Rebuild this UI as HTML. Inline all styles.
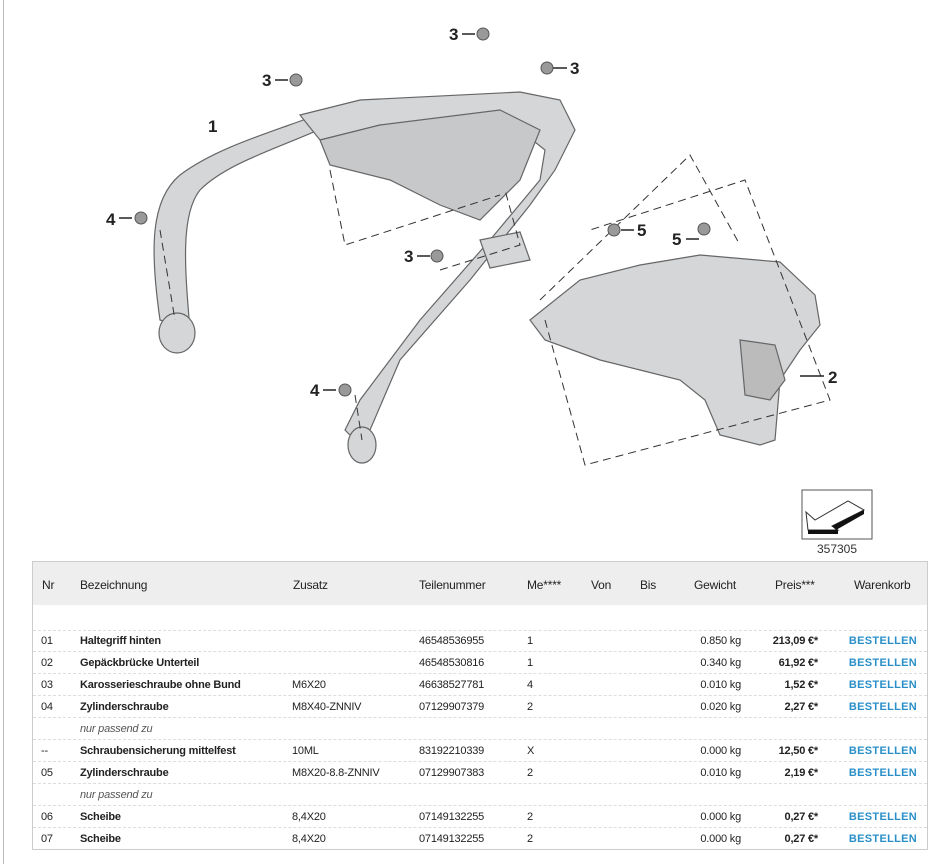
<!DOCTYPE html>
<html><head><meta charset="utf-8"><style>
body{margin:0;width:952px;height:864px;background:#fff;position:relative;overflow:hidden;font-family:"Liberation Sans",Arial,sans-serif;}
.b{position:absolute;left:3px;top:0;width:1px;height:864px;background:#bbb}
.t{position:absolute;left:32px;top:561px;width:896px;height:289px;border:1px solid #ccc;box-sizing:border-box}
.h{position:absolute;left:0;top:0;width:100%;height:43px;background:#eee}
.c{position:absolute;font-size:11px;color:#222;white-space:nowrap;letter-spacing:-0.2px}
.hc{font-size:12px;color:#222}
.r{text-align:right}
.bo{font-weight:bold}
.bl{color:#2a8fc8;font-weight:bold;letter-spacing:0.3px}
.d{position:absolute;left:0;width:100%;border-top:1px dashed #ddd}
.i{font-style:italic;color:#555}
</style></head><body>
<div class="b"></div>
<svg width="952" height="560" style="position:absolute;left:0;top:0">
<g fill="#d4d6d8" stroke="#666" stroke-width="1.2">
<path d="M160 320 C150 250 150 200 180 175 C220 145 280 130 330 110 L340 120 C290 145 230 160 200 190 C180 215 185 270 190 330 Z"/>
<ellipse cx="177" cy="333" rx="18" ry="20"/>
<path d="M300 115 L360 100 L520 92 L560 100 L575 130 L555 170 L530 205 L470 280 L400 360 L370 430 L355 440 L345 430 L360 400 L420 320 L490 240 L540 180 L545 150 L520 130 L460 120 L380 125 L320 140 Z"/>
<path d="M320 140 L380 125 L500 110 L540 130 L520 180 L480 220 L440 205 L390 180 L330 165 Z" fill="#c6c8ca"/>
<ellipse cx="362" cy="445" rx="14" ry="18"/>
<path d="M530 320 L580 280 L640 265 L700 255 L780 262 L815 295 L820 325 L800 350 L780 380 L775 440 L760 445 L720 435 L705 400 L680 380 L640 370 L600 360 L545 340 Z"/>
<path d="M740 340 L775 345 L785 380 L770 400 L745 395 Z" fill="#bbb"/>
<path d="M480 240 L520 232 L530 260 L490 268 Z"/>
</g>
<g stroke="#333" stroke-width="1" fill="none" stroke-dasharray="8,5">
<path d="M330 170 L345 245 L500 195"/><path d="M440 270 L520 245 L505 190"/>
<path d="M540 300 L690 155 L740 245"/><path d="M545 320 L585 465 L830 400 L745 180 L590 230"/>
<path d="M160 230 L175 320"/><path d="M355 395 L362 440"/>
</g>
<g font-size="17" font-weight="bold" fill="#222" font-family="Liberation Sans">
<text x="208" y="132">1</text><text x="828" y="383">2</text>
<text x="262" y="86">3</text><text x="449" y="40">3</text><text x="570" y="74">3</text><text x="404" y="262">3</text>
<text x="106" y="225">4</text><text x="310" y="396">4</text>
<text x="637" y="236">5</text><text x="672" y="245">5</text>
</g>
<g stroke="#222" stroke-width="1.5">
<line x1="275" y1="80" x2="288" y2="80"/><line x1="462" y1="34" x2="475" y2="34"/><line x1="553" y1="68" x2="567" y2="68"/>
<line x1="417" y1="256" x2="430" y2="256"/><line x1="119" y1="218" x2="132" y2="218"/><line x1="323" y1="390" x2="336" y2="390"/>
<line x1="621" y1="230" x2="634" y2="230"/><line x1="686" y1="239" x2="699" y2="239"/><line x1="800" y1="376" x2="824" y2="376"/>
</g>
<g fill="#999" stroke="#555"><circle cx="296" cy="80" r="6"/><circle cx="483" cy="34" r="6"/><circle cx="547" cy="68" r="6"/><circle cx="437" cy="256" r="6"/><circle cx="141" cy="218" r="6"/><circle cx="345" cy="390" r="6"/><circle cx="614" cy="230" r="6"/><circle cx="704" cy="229" r="6"/></g>
<rect x="802" y="490" width="70" height="49" fill="#fff" stroke="#555"/>
<path d="M806 512 L815 520 L848 501 L864 510 L832 526 L838 530 L808 530 Z" fill="#fff" stroke="#333"/>
<path d="M808 530 L838 530 L838 534 L808 534 Z M832 526 L864 510 L864 514 L836 530 Z" fill="#111"/>
<text x="837" y="553" font-size="12" fill="#333" text-anchor="middle" font-family="Liberation Sans">357305</text>
</svg>
<div class="t">
<div class="h"></div>
<div class="c hc" style="left:9px;top:16px">Nr</div>
<div class="c hc" style="left:47px;top:16px">Bezeichnung</div>
<div class="c hc" style="left:260px;top:16px">Zusatz</div>
<div class="c hc" style="left:386px;top:16px">Teilenummer</div>
<div class="c hc" style="left:494px;top:16px">Me****</div>
<div class="c hc" style="left:558px;top:16px">Von</div>
<div class="c hc" style="left:607px;top:16px">Bis</div>
<div class="c hc" style="left:661px;top:16px">Gewicht</div>
<div class="c hc" style="left:742px;top:16px">Preis***</div>
<div class="c hc" style="left:821px;top:16px">Warenkorb</div>
<div class="d" style="top:68px"></div>
</div>
<div id="rows"></div>
<script>
var R=[["01","Haltegriff hinten","","46548536955","1","0.850 kg","213,09 €*"],
["02","Gepäckbrücke Unterteil","","46548530816","1","0.340 kg","61,92 €*"],
["03","Karosserieschraube ohne Bund","M6X20","46638527781","4","0.010 kg","1,52 €*"],
["04","Zylinderschraube","M8X40-ZNNIV","07129907379","2","0.020 kg","2,27 €*"],
["n"],
["--","Schraubensicherung mittelfest","10ML","83192210339","X","0.000 kg","12,50 €*"],
["05","Zylinderschraube","M8X20-8.8-ZNNIV","07129907383","2","0.010 kg","2,19 €*"],
["n"],
["06","Scheibe","8,4X20","07149132255","2","0.000 kg","0,27 €*"],
["07","Scheibe","8,4X20","07149132255","2","0.000 kg","0,27 €*"]];
var h="";
R.forEach(function(r,i){var y=635+i*22;
if(i>0)h+='<div class="d" style="left:33px;width:894px;top:'+(y-6)+'px"></div>';
if(r[0]=="n"){h+='<div class="c i" style="left:80px;top:'+y+'px">nur passend zu</div>';return;}
h+='<div class="c" style="left:41px;top:'+y+'px">'+r[0]+'</div><div class="c bo" style="left:80px;top:'+y+'px">'+r[1]+'</div><div class="c" style="left:292px;top:'+y+'px">'+r[2]+'</div><div class="c" style="left:419px;top:'+y+'px">'+r[3]+'</div><div class="c" style="left:527px;top:'+y+'px">'+r[4]+'</div><div class="c r" style="right:211px;top:'+y+'px">'+r[5]+'</div><div class="c r bo" style="right:134px;top:'+y+'px">'+r[6]+'</div><div class="c bl" style="right:35px;top:'+y+'px">BESTELLEN</div>';});
document.getElementById("rows").innerHTML=h;
</script>
</body></html>
